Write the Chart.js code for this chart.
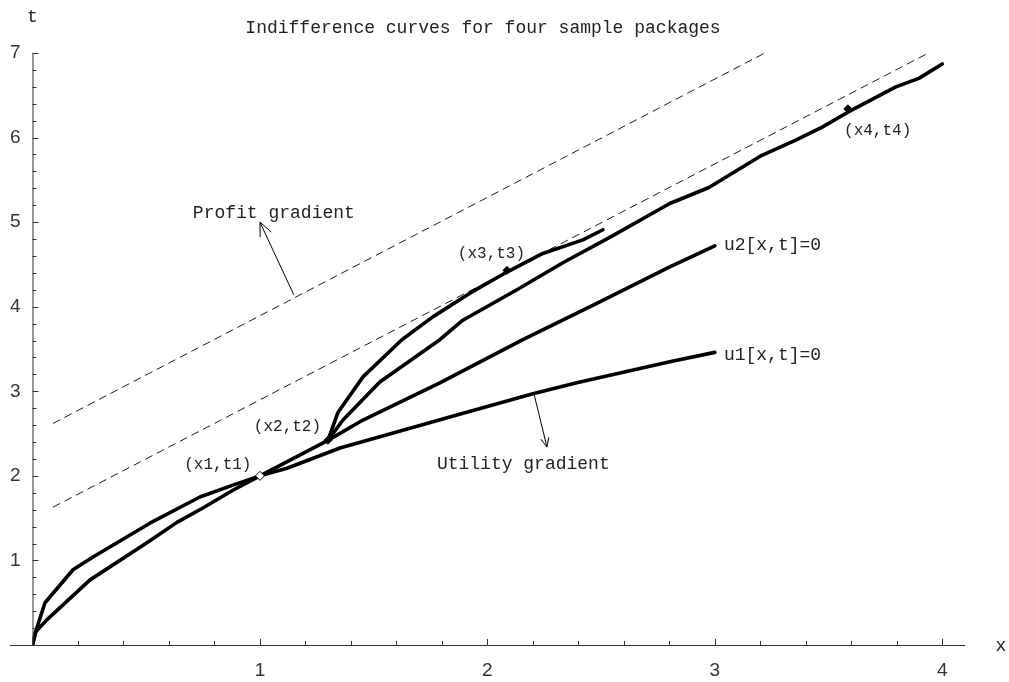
<!DOCTYPE html>
<html>
<head>
<meta charset="utf-8">
<script src="https://cdn.jsdelivr.net/npm/chart.js@4/dist/chart.umd.min.js"></script>
<style>
  body { margin: 0; background: #fff; }
  #wrap { width: 1009px; height: 682px; }
</style>
</head>
<body>
<div id="wrap"><canvas id="plot" width="1009" height="682"></canvas></div>
<script>
// indifference curves (x, t)
const u1X = [0, 0.02, 0.055, 0.178, 0.266, 0.516, 0.736, 0.881, 1.0, 1.119, 1.352, 1.866, 2.2, 2.393, 2.802, 3.0];
const u1T = [0, 0.21, 0.50, 0.89, 1.04, 1.44, 1.75, 1.89, 2.0, 2.09, 2.33, 2.72, 2.97, 3.10, 3.35, 3.46];
const u2X = [0, 0.012, 0.064, 0.253, 0.503, 0.635, 0.749, 0.881, 1.0, 1.299, 1.453, 1.791, 2.156, 2.481, 2.802, 3.0];
const u2T = [0, 0.15, 0.30, 0.77, 1.21, 1.45, 1.62, 1.83, 2.0, 2.42, 2.66, 3.10, 3.61, 4.04, 4.47, 4.72];
const c3X = [1.299, 1.343, 1.453, 1.624, 1.760, 1.923, 2.086, 2.244, 2.42, 2.508];
const c3T = [2.42, 2.75, 3.17, 3.61, 3.88, 4.16, 4.41, 4.63, 4.79, 4.91];
const c4X = [1.299, 1.365, 1.527, 1.791, 1.892, 2.13, 2.332, 2.538, 2.802, 2.974, 3.207, 3.356, 3.470, 3.585, 3.796, 3.897, 4.0];
const c4T = [2.42, 2.66, 3.11, 3.61, 3.84, 4.20, 4.52, 4.82, 5.22, 5.41, 5.79, 5.97, 6.12, 6.30, 6.60, 6.70, 6.87];

// iso-profit lines
const profitHiX = [0.09, 3.22];
const profitHiT = [2.62, 7.0];
const profitLoX = [0.09, 3.94];
const profitLoT = [1.63, 7.0];

// gradient arrows (tail, head)
const profitArrowX = [1.149, 1.0];
const profitArrowT = [4.14, 5.0];
const utilityArrowX = [2.204, 2.262];
const utilityArrowT = [2.98, 2.34];

// sample packages
const pkgNames = ["(x1,t1)", "(x2,t2)", "(x3,t3)", "(x4,t4)"];
const pkgX = [1.0, 1.299, 2.086, 3.585];
const pkgT = [2.0, 2.42, 4.43, 6.34];

const xTicks = [1, 2, 3, 4];
const yTicks = [1, 2, 3, 4, 5, 6, 7];

// text notes placed in data coordinates
const notes = [
  { text: pkgNames[0], x: 0.815, t: 2.13, align: "center", size: 16 },
  { text: pkgNames[1], x: 1.121, t: 2.58, align: "center", size: 16 },
  { text: pkgNames[2], x: 2.018, t: 4.63, align: "center", size: 16 },
  { text: pkgNames[3], x: 3.716, t: 6.08, align: "center", size: 16 },
  { text: "u2[x,t]=0", x: 3.04, t: 4.73, align: "left", size: 18 },
  { text: "u1[x,t]=0", x: 3.04, t: 3.43, align: "left", size: 18 },
  { text: "Profit gradient", x: 0.705, t: 5.11, align: "left", size: 18 },
  { text: "Utility gradient", x: 1.778, t: 2.14, align: "left", size: 18 }
];

const pts = (xs, ts) => xs.map((x, i) => ({ x: x, y: ts[i] }));
const mono = "'Liberation Mono', 'Courier New', monospace";
const near = v => Math.abs(v - Math.round(v)) < 1e-6;

function curve(xs, ts) {
  return { data: pts(xs, ts), showLine: true, borderColor: "#000", borderWidth: 3.6,
    pointRadius: 0, borderCapStyle: "round", borderJoinStyle: "round", order: 1 };
}
function dashed(xs, ts) {
  return { data: pts(xs, ts), showLine: true, borderColor: "#000", borderWidth: 0.9,
    borderDash: [8, 5], pointRadius: 0, order: 2, clip: false };
}
function arrow(xs, ts, head) {
  return { data: pts(xs, ts), showLine: true, borderColor: "#000", borderWidth: 1,
    pointRadius: 0, order: 1, arrowHead: head };
}

const datasets = [
  { data: [{ x: pkgX[0], y: pkgT[0] }], pointStyle: "rectRot", pointRadius: 4.5,
    backgroundColor: "#fff", borderColor: "#000", borderWidth: 1, order: 0 },
  { data: pts(pkgX.slice(1), pkgT.slice(1)), pointStyle: "rectRot", pointRadius: 4,
    backgroundColor: "#000", borderColor: "#000", borderWidth: 1, order: 0 },
  curve(u1X, u1T),
  curve(u2X, u2T),
  curve(c3X, c3T),
  curve(c4X, c4T),
  dashed(profitHiX, profitHiT),
  dashed(profitLoX, profitLoT),
  arrow(profitArrowX, profitArrowT, 15),
  arrow(utilityArrowX, utilityArrowT, 10)
];

// mathematica style axes: ticks pointing inward, labels, arrow heads and notes
const decor = {
  id: "decor",
  afterDatasetsDraw(chart) {
    const c = chart.ctx;
    const xs = chart.scales.x, ys = chart.scales.y;
    const x0 = xs.getPixelForValue(0), y0 = ys.getPixelForValue(0);
    c.save();
    c.strokeStyle = "#333";
    c.lineWidth = 1;
    c.beginPath();
    c.moveTo(xs.getPixelForValue(-0.1), y0 + 0.5);
    c.lineTo(xs.getPixelForValue(4.1), y0 + 0.5);
    c.moveTo(x0 + 0.5, y0);
    c.lineTo(x0 + 0.5, ys.getPixelForValue(7));
    xs.ticks.forEach(tk => {
      if (tk.value === 0) return;
      const px = Math.round(xs.getPixelForValue(tk.value)) + 0.5;
      c.moveTo(px, y0);
      c.lineTo(px, y0 - (near(tk.value) ? 6 : 4));
    });
    ys.ticks.forEach(tk => {
      if (tk.value === 0) return;
      const py = Math.round(ys.getPixelForValue(tk.value)) + 0.5;
      c.moveTo(x0, py);
      c.lineTo(x0 + (near(tk.value) ? 6 : 4), py);
    });
    c.stroke();

    // arrow heads
    c.strokeStyle = "#000";
    chart.data.datasets.forEach((ds, i) => {
      if (!ds.arrowHead) return;
      const el = chart.getDatasetMeta(i).data;
      const a = el[0], b = el[el.length - 1];
      const ang = Math.atan2(a.y - b.y, a.x - b.x);
      c.beginPath();
      [-0.42, 0.42].forEach(d => {
        c.moveTo(b.x, b.y);
        c.lineTo(b.x + ds.arrowHead * Math.cos(ang + d), b.y + ds.arrowHead * Math.sin(ang + d));
      });
      c.stroke();
    });

    // notes
    c.fillStyle = "#222";
    c.textBaseline = "middle";
    notes.forEach(n => {
      c.font = n.size + "px " + mono;
      c.textAlign = n.align;
      c.fillText(n.text, xs.getPixelForValue(n.x), ys.getPixelForValue(n.t));
    });

    // title and axis names
    c.font = "18px " + mono;
    c.textAlign = "center";
    c.fillText("Indifference curves for four sample packages", 483, 28);
    c.fillText("t", x0, 17);
    c.fillText("x", 1001, y0 + 1);
    c.restore();
  }
};

const tickFont = { family: "'Liberation Sans', Arial, sans-serif", size: 19 };

new Chart(document.getElementById("plot"), {
  type: "scatter",
  data: { datasets: datasets },
  options: {
    responsive: false,
    animation: false,
    events: [],
    layout: { padding: { top: 53, right: 44, left: 0, bottom: 0 } },
    plugins: { legend: { display: false }, tooltip: { enabled: false }, title: { display: false } },
    scales: {
      x: {
        type: "linear", min: 0, max: 4.1,
        grid: { display: false, drawTicks: false, tickLength: 0 },
        border: { display: false },
        afterFit: s => { s.height = 37; },
        ticks: {
          stepSize: 0.2, includeBounds: false, autoSkip: false, maxRotation: 0, padding: 14,
          color: "#333", font: tickFont,
          callback: v => (near(v) && v > 0 && xTicks.includes(Math.round(v))) ? String(Math.round(v)) : ""
        }
      },
      y: {
        type: "linear", min: 0, max: 7,
        grid: { display: false, drawTicks: false, tickLength: 0 },
        border: { display: false },
        afterFit: s => { s.width = 32.5; },
        ticks: {
          stepSize: 0.2, includeBounds: false, autoSkip: false, padding: 12,
          color: "#333", font: tickFont,
          callback: v => (near(v) && v > 0 && yTicks.includes(Math.round(v))) ? String(Math.round(v)) : ""
        }
      }
    }
  },
  plugins: [decor]
});
</script>
</body>
</html>
